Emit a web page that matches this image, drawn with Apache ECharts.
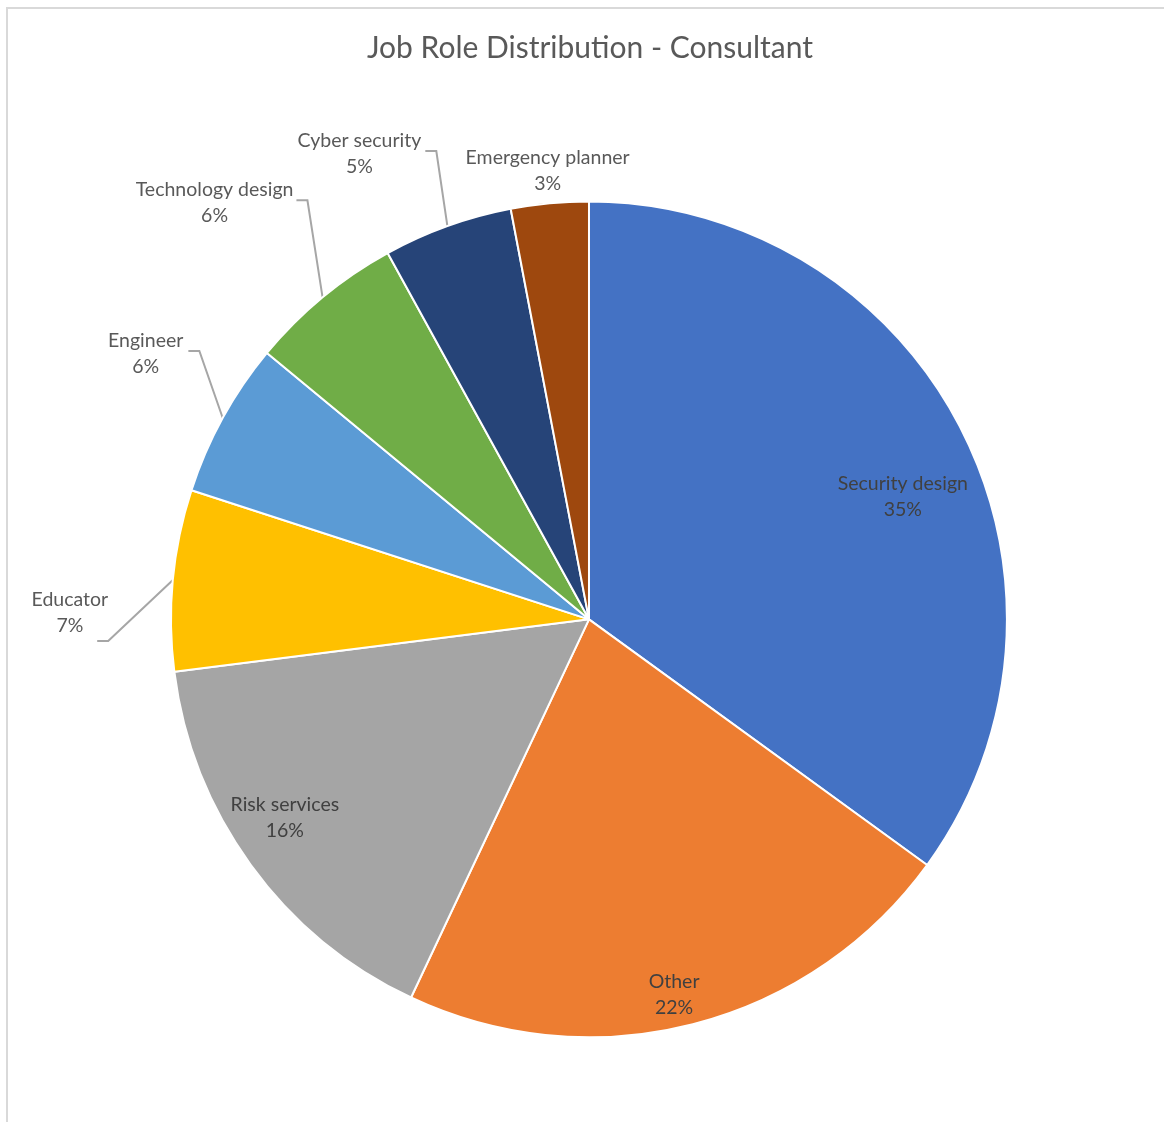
<!DOCTYPE html>
<html>
<head>
<meta charset="utf-8">
<title>Job Role Distribution - Consultant</title>
<script src="https://cdn.jsdelivr.net/npm/echarts@6/dist/echarts.min.js"></script>
<style>
  html, body { margin: 0; padding: 0; background: #ffffff; }
  #chart { width: 1164px; height: 1122px; }
</style>
</head>
<body>
<div id="chart"></div>
<script>
// Job roles, clockwise from 12 o'clock
const categories = [
  'Security design', 'Other', 'Risk services', 'Educator',
  'Engineer', 'Technology design', 'Cyber security', 'Emergency planner'
];
// Share of consultants per role (%)
const shares = [35, 22, 16, 7, 6, 6, 5, 3];

const sliceColors = [
  '#4472C4', '#ED7D31', '#A5A5A5', '#FFC000',
  '#5B9BD5', '#70AD47', '#264478', '#9E480E'
];

// Roles whose labels sit inside their slice; the rest go outside
const insideRoles = ['Security design', 'Other', 'Risk services'];

// Nudges for label placement (px)
const innerLabelNudge = {
  'Security design': [-9, 42],
  'Other': [-5, 24],
  'Risk services': [-11, -15]
};
// Outside labels: offset of label centre from the slice's arc anchor,
// and where the leader line meets the label box (from its right/top edge)
const outerLabelPlacement = {
  'Educator':          { dx: -103, dy: 33,  lineX: -11, lineY: 51 },
  'Engineer':          { dx: -77,  dy: -64, lineX: 5,   lineY: 20 },
  'Technology design': { dx: -108, dy: -95, lineX: 3,   lineY: 21 },
  'Cyber security':    { dx: -88,  dy: -72, lineX: 4,   lineY: 20 },
  'Emergency planner': { dx: -2,   dy: -33, lineX: null, lineY: null }
};

const FONT = 'Lato, "Open Sans", sans-serif';
const PIE_CENTER = ['50.6%', '55.2%'];
const PIE_RADIUS = '74.5%';

function labelText(p) {
  return '{n|' + p.name + '}\n{n|' + Math.round(p.percent) + '%}';
}
const labelRich = { n: { align: 'center', lineHeight: 26 } };

const sliceData = categories.map((name, i) => {
  const outside = insideRoles.indexOf(name) < 0;
  return {
    name: name,
    value: shares[i],
    itemStyle: { color: sliceColors[i] },
    label: { show: outside },
    labelLine: {
      show: outside,
      lineStyle: name === 'Emergency planner' ? { opacity: 0 } : {}
    }
  };
});

const ringLabelData = categories.map((name, i) => ({
  name: name,
  value: shares[i],
  label: { show: insideRoles.indexOf(name) >= 0 }
}));

function outerLayout(p) {
  const place = outerLabelPlacement[categories[p.dataIndex]];
  if (!place || !p.labelLinePoints) return {};
  const a = p.labelLinePoints[0];
  const w = p.labelRect.width, h = p.labelRect.height;
  const cx = a[0] + place.dx, cy = a[1] + place.dy;
  let pts;
  if (place.lineX === null) {
    pts = [a, a, a];
  } else {
    const endX = cx + w / 2 + place.lineX;
    const endY = cy - h / 2 + place.lineY;
    pts = [a, [endX + 11, endY], [endX, endY]];
  }
  return { x: cx, y: cy, align: 'center', verticalAlign: 'middle', labelLinePoints: pts };
}

function innerLayout(p) {
  const n = innerLabelNudge[categories[p.dataIndex]];
  if (!n) return {};
  const r = p.labelRect;
  return {
    x: r.x + r.width / 2 + n[0],
    y: r.y + r.height / 2 + n[1],
    align: 'center',
    verticalAlign: 'middle'
  };
}

const chart = echarts.init(document.getElementById('chart'), null, { renderer: 'canvas' });

chart.setOption({
  backgroundColor: '#ffffff',
  animation: false,
  title: {
    text: 'Job Role Distribution - Consultant',
    left: 585,
    top: 28,
    textAlign: 'center',
    textStyle: { fontFamily: FONT, fontSize: 30, fontWeight: 'normal', color: '#595959' }
  },
  graphic: [
    { type: 'rect', shape: { x: 6, y: 7, width: 1158, height: 2 }, style: { fill: '#d9d9d9' }, silent: true },
    { type: 'rect', shape: { x: 6, y: 7, width: 2, height: 1115 }, style: { fill: '#d9d9d9' }, silent: true }
  ],
  series: [
    {
      type: 'pie',
      center: PIE_CENTER,
      radius: PIE_RADIUS,
      startAngle: 90,
      clockwise: true,
      avoidLabelOverlap: false,
      itemStyle: { borderColor: '#ffffff', borderWidth: 2 },
      label: {
        position: 'outside',
        formatter: labelText,
        rich: labelRich,
        fontFamily: FONT,
        fontSize: 19.5,
        color: '#595959',
        overflow: 'none'
      },
      labelLine: {
        length: 20,
        length2: 10,
        smooth: false,
        lineStyle: { color: '#a6a6a6', width: 2 }
      },
      labelLayout: outerLayout,
      emphasis: { disabled: true },
      data: sliceData
    },
    {
      type: 'pie',
      center: PIE_CENTER,
      radius: ['53.6%', PIE_RADIUS],
      startAngle: 90,
      clockwise: true,
      silent: true,
      avoidLabelOverlap: false,
      itemStyle: { color: 'rgba(0,0,0,0)', borderWidth: 0 },
      label: {
        position: 'inside',
        formatter: labelText,
        rich: labelRich,
        fontFamily: FONT,
        fontSize: 19.5,
        color: '#404040',
        overflow: 'none'
      },
      labelLine: { show: false },
      labelLayout: innerLayout,
      emphasis: { disabled: true },
      data: ringLabelData
    }
  ]
});
</script>
</body>
</html>
